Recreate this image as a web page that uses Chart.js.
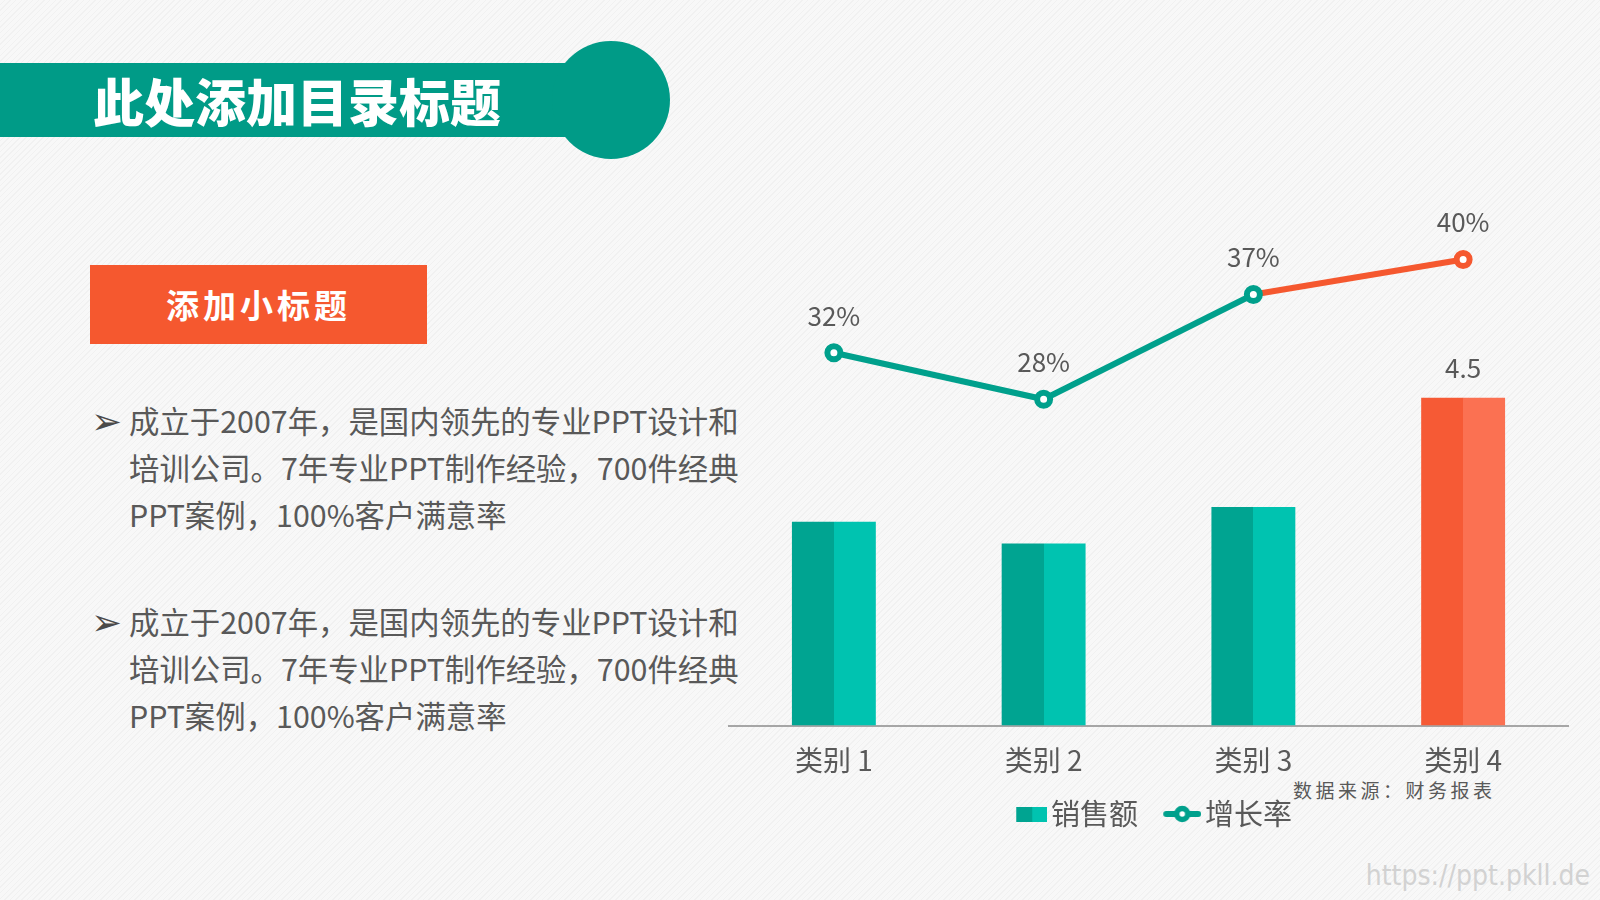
<!DOCTYPE html>
<html>
<head>
<meta charset="utf-8">
<script src="https://cdn.jsdelivr.net/npm/chart.js@4.4.0/dist/chart.umd.min.js"></script>
<style>
  html, body { margin: 0; padding: 0; }
  body {
    width: 1600px; height: 900px; position: relative; overflow: hidden;
    background: repeating-linear-gradient(135deg, #f8f8f8 0px, #f8f8f8 3px, #f1f1f1 3px, #f1f1f1 4px);
    font-family: "Noto Sans CJK SC", "Noto Sans", sans-serif;
  }
  .band { position: absolute; left: 0; top: 63px; width: 620px; height: 74px; background: #009b87; }
  .circle { position: absolute; left: 552px; top: 41px; width: 118px; height: 118px; border-radius: 50%; background: #009b87; }
  .title { position: absolute; left: 93px; top: 63px; height: 74px; line-height: 74px; color: #fff;
           font-size: 51px; font-weight: 900; white-space: nowrap; }
  .sub { position: absolute; left: 90px; top: 265px; width: 337px; height: 79px; background: #f5582f;
         color: #fff; font-size: 33px; font-weight: 700; text-align: center; line-height: 79px; letter-spacing: 4px; }
  .para { position: absolute; left: 129px; color: #595959; font-size: 30.4px; line-height: 47px; white-space: nowrap; }
  .bullet { position: absolute; left: 91px; color: #4a4a4a; font-size: 37px; line-height: 47px;
            font-family: "DejaVu Sans", sans-serif; }
  .source { position: absolute; left: 1293px; top: 777px; color: #595959; font-size: 19px; line-height: 26px;
            letter-spacing: 3.5px; white-space: nowrap; }
  .wm { position: absolute; right: 10px; top: 859px; color: #d2d2d2; font-size: 28px; line-height: 34px;
        font-family: "Liberation Sans Narrow", "DejaVu Sans Condensed", sans-serif; white-space: nowrap; }
  #chart { position: absolute; left: 700px; top: 120px; }
</style>
</head>
<body>
<div class="band"></div>
<div class="circle"></div>
<div class="title">此处添加目录标题</div>
<div class="sub">添加小标题</div>

<div class="bullet" style="top:398px;">➢</div>
<div class="para" style="top:397px;">成立于2007年，是国内领先的专业PPT设计和<br>培训公司。7年专业PPT制作经验，700件经典<br>PPT案例，100%客户满意率</div>

<div class="bullet" style="top:599px;">➢</div>
<div class="para" style="top:598px;">成立于2007年，是国内领先的专业PPT设计和<br>培训公司。7年专业PPT制作经验，700件经典<br>PPT案例，100%客户满意率</div>

<div class="source">数据来源：财务报表</div>
<div class="wm">https://ppt.pkll.de</div>

<canvas id="chart" width="900" height="760"></canvas>

<script>
// ---- data ----
const categories = ['类别 1', '类别 2', '类别 3', '类别 4'];
const salesValues = [2.8, 2.5, 3.0, 4.5];
const growthValues = [0.32, 0.28, 0.37, 0.40];
const seriesNames = ['销售额', '增长率'];
const salesLabels = ['', '', '', '4.5'];
const growthLabels = ['32%', '28%', '37%', '40%'];
const highlightIndex = 3;

// ---- styles ----
const TEAL_D = '#00a491';
const TEAL_L = '#00c3b0';
const OR_D = '#f65a35';
const OR_L = '#fb7152';
const LINE_TEAL = '#00a08c';
const LINE_OR = '#f5582f';
const TEXT = '#595959';
const FONT = '"Noto Sans CJK SC", "Noto Sans", sans-serif';

Chart.defaults.font.family = FONT;
Chart.defaults.color = TEXT;

// legend icons: drawn right-aligned inside a 53px wide transparent canvas
function makeBarIcon() {
  const c = document.createElement('canvas');
  c.width = 53; c.height = 15;
  const x = c.getContext('2d');
  x.fillStyle = TEAL_D; x.fillRect(22, 0, 16, 15);
  x.fillStyle = TEAL_L; x.fillRect(38, 0, 15, 15);
  return c;
}
function makeLineIcon() {
  const c = document.createElement('canvas');
  c.width = 53; c.height = 22;
  const x = c.getContext('2d');
  x.strokeStyle = LINE_TEAL; x.lineWidth = 6; x.lineCap = 'round';
  x.beginPath(); x.moveTo(18, 11); x.lineTo(50, 11); x.stroke();
  x.beginPath(); x.arc(34, 11, 5.5, 0, Math.PI * 2);
  x.fillStyle = '#fff'; x.fill(); x.lineWidth = 5.5; x.stroke();
  return c;
}
const barIcon = makeBarIcon();
const lineIcon = makeLineIcon();

function splitFill(ctx) {
  const chart = ctx.chart;
  const i = ctx.dataIndex;
  const d = i === highlightIndex ? OR_D : TEAL_D;
  const l = i === highlightIndex ? OR_L : TEAL_L;
  const xs = chart.scales && chart.scales.x;
  if (!xs || i === undefined) return d;
  const cx = xs.getPixelForValue(i);
  const g = chart.ctx.createLinearGradient(cx - 0.5, 0, cx + 0.5, 0);
  g.addColorStop(0, d); g.addColorStop(0.5, d);
  g.addColorStop(0.5, l); g.addColorStop(1, l);
  return g;
}

const valueLabels = {
  id: 'valueLabels',
  afterDatasetsDraw(chart) {
    const ctx = chart.ctx;
    ctx.save();
    ctx.font = '26px ' + FONT;
    ctx.fillStyle = TEXT;
    ctx.textAlign = 'center';
    ctx.textBaseline = 'middle';
    chart.getDatasetMeta(1).data.forEach((p, i) => {
      ctx.fillText(growthLabels[i], p.x, p.y - 37);
    });
    chart.getDatasetMeta(0).data.forEach((b, i) => {
      if (salesLabels[i]) ctx.fillText(salesLabels[i], b.x, b.y - 30);
    });
    ctx.restore();
  }
};

new Chart(document.getElementById('chart'), {
  type: 'bar',
  data: {
    labels: categories,
    datasets: [
      {
        type: 'bar',
        label: seriesNames[0],
        data: salesValues,
        yAxisID: 'y',
        backgroundColor: splitFill,
        borderWidth: 0,
        categoryPercentage: 1,
        barPercentage: 0.4,
        order: 2
      },
      {
        type: 'line',
        label: seriesNames[1],
        data: growthValues,
        yAxisID: 'y1',
        borderColor: LINE_TEAL,
        borderWidth: 6,
        segment: {
          borderColor: (c) => (c.p1DataIndex === highlightIndex ? LINE_OR : LINE_TEAL)
        },
        pointRadius: 6.5,
        pointHoverRadius: 6.5,
        pointBorderWidth: 6,
        pointBackgroundColor: '#ffffff',
        pointBorderColor: growthValues.map((v, i) => (i === highlightIndex ? LINE_OR : LINE_TEAL)),
        tension: 0,
        order: 1
      }
    ]
  },
  options: {
    responsive: false,
    animation: false,
    devicePixelRatio: 1,
    layout: { padding: { left: 29, right: 32, top: 23, bottom: 41.5 } },
    scales: {
      x: {
        grid: { display: false, drawTicks: false },
        border: { display: true, color: '#a6a6a6', width: 2 },
        ticks: { color: TEXT, font: { size: 28 }, padding: 18 },
        afterFit: (s) => { s.height = 53; }
      },
      y: { display: false, min: 0, max: 8 },
      y1: { display: false, min: 0, max: 0.5 }
    },
    plugins: {
      tooltip: { enabled: false },
      legend: {
        position: 'bottom',
        labels: {
          usePointStyle: true,
          pointStyleWidth: 31.5,
          padding: 21,
          color: TEXT,
          font: { size: 29 },
          generateLabels: () => [
            { text: seriesNames[0], pointStyle: barIcon, datasetIndex: 0, fontColor: TEXT, lineWidth: 0 },
            { text: seriesNames[1], pointStyle: lineIcon, datasetIndex: 1, fontColor: TEXT, lineWidth: 0 }
          ]
        }
      }
    }
  },
  plugins: [valueLabels]
});
</script>
</body>
</html>
